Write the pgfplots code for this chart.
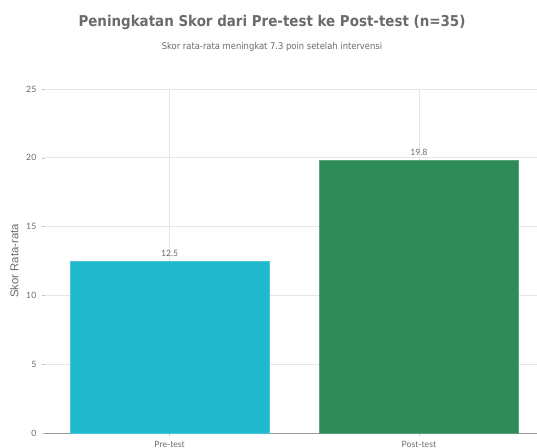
\documentclass[border=0pt]{standalone}
\usepackage{fontspec}
\setmainfont{Lato}
\newfontfamily\titlefont{DejaVu Sans Condensed}
\newfontfamily\labfont{Liberation Sans}
\usepackage{pgfplots}
\pgfplotsset{compat=1.18}
\definecolor{precol}{HTML}{20B8CD}
\definecolor{postcol}{HTML}{2E8B57}
\definecolor{txtgray}{HTML}{6B6B6B}
\definecolor{gridgray}{HTML}{E6E6E6}
\begin{document}
\begin{tikzpicture}
\begin{axis}[
  at={(0,0)}, anchor=south west,
  scale only axis,
  width=369pt, height=258pt,
  xmin=-0.5, xmax=1.474,
  ymin=0, ymax=25,
  xtick={0,1}, xticklabels={Pre-test,Post-test},
  ytick={0,5,10,15,20,25},
  axis x line*=bottom, axis y line*=left,
  x axis line style={-, draw=gray!80},
  y axis line style={draw=none},
  tick align=outside,
  major tick length=2.5pt,
  tick style={draw=gridgray!70!gray},
  grid=major,
  major grid style={draw=gridgray, line width=0.5pt},
  ticklabel style={font=\fontsize{6.5}{7}\selectfont, text=txtgray},
  /pgf/number format/assume math mode=true,
  yticklabel style={xshift=-0.5pt},
  xticklabel style={yshift=-0.5pt},
  ylabel={Skor Rata-rata},
  ylabel style={font=\labfont\fontsize{8.5}{10}\selectfont, text=txtgray},
  ylabel shift=-1pt,
  bar width=0.8,
  ybar, bar shift=0pt,
  nodes near coords={\pgfmathprintnumber[fixed,fixed zerofill,precision=1]{\pgfplotspointmeta}},
  nodes near coords style={font=\fontsize{6.5}{7}\selectfont, text=txtgray},
  clip=false,
]
\addplot[fill=precol, draw=precol!80!white] coordinates {(0,12.5)};
\addplot[fill=postcol, draw=postcol!80!white] coordinates {(1,19.8)};
\end{axis}
\node[font=\titlefont\bfseries\fontsize{11.2}{13}\selectfont, text=txtgray] at (170.25pt,308.25pt) {Peningkatan Skor dari Pre-test ke Post-test (n=35)};
\node[font=\titlefont\fontsize{7}{8}\selectfont, text=txtgray] at (170.25pt,289.5pt) {Skor rata-rata meningkat 7.3 poin setelah intervensi};
\pgfresetboundingbox
\path[use as bounding box] (-33.75pt,-11.25pt) rectangle (369pt,324.75pt);
\end{tikzpicture}
\end{document}
